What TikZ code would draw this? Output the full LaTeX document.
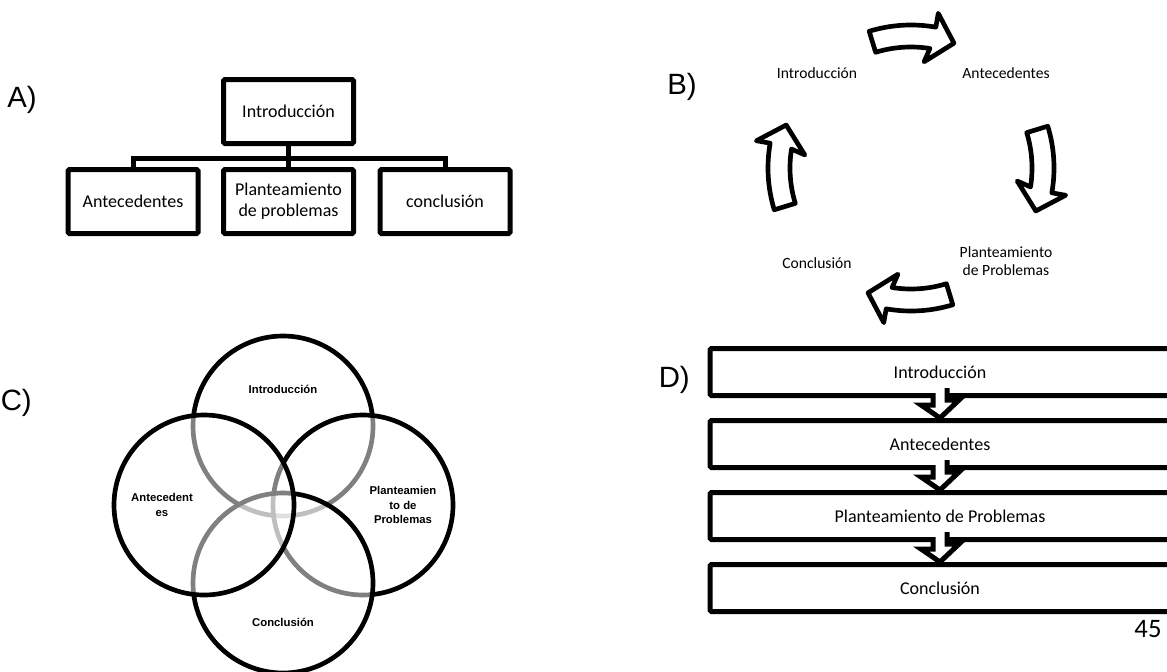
\documentclass[tikz,border=0pt]{standalone}
\usepackage{fontspec}
\setmainfont{Carlito}
\newfontfamily\arialfont{Liberation Sans}
\usetikzlibrary{calc}

\begin{document}
\begin{tikzpicture}[
    x=0.75pt, y=-0.75pt, node distance=54pt,
    seclabel/.style={font=\arialfont\fontsize{22}{26}\selectfont, anchor=east, inner sep=0pt},
    abox/.style={draw, line width=3.75pt, rounded corners=1pt, minimum width=97.5pt, minimum height=48pt, inner sep=2pt, align=center, font=\fontsize{13.5}{15.5}\selectfont},
    cyctxt/.style={align=center, font=\fontsize{11.7}{13.75}\selectfont},
    venn/.style={circle, draw, line width=3.5pt, fill=white, fill opacity=0.5, minimum size=135pt, inner sep=0pt},
    venntxt/.style={align=center, inner sep=0pt, font=\arialfont\bfseries\fontsize{8.5}{11}\selectfont},
    dbox/.style={draw, line width=3.75pt, rounded corners=1pt, minimum width=345pt, minimum height=35.25pt, font=\fontsize{13.5}{16}\selectfont},
    chev/.style={draw, fill=white, line width=3.75pt},
    cyclearrow/.pic={
        \path[draw, fill=white, line width=3.5pt, line join=round] (-107:143) arc[start angle=-107, end angle=-80, radius=143] -- (-80:157) -- (-71:132) -- (-83:107) -- (-81:121) arc[start angle=-81, end angle=-107, radius=121] -- cycle;
    }
]
\useasboundingbox (0,0) rectangle (1167,671);

\node (labA) [seclabel] at (37,100) {A)};
\node (labB) [seclabel] at (697,87) {B)};
\node (labC) [seclabel] at (32,403) {C)};
\node (labD) [seclabel] at (690,380) {D)};

\node (introA) [abox] at (288.5,111.5) {Introducción};
\node (antA) [abox] at (133,201.5) {Antecedentes};
\node (planA) [abox] at (288.5,201.5) {Planteamiento\\de problemas};
\node (conA) [abox] at (445,201.5) {conclusión};
\coordinate (busA) at (288.5,158);
\draw[line width=3.75pt] (antA.north) |- (busA) -| (conA.north);
\draw[line width=3.75pt] (introA.south) -- (planA.north);

\coordinate (cycB) at (911,168);
\foreach \r in {0,90,180,270}
    \pic[rotate=\r] at (cycB) {cyclearrow};
\node (introB) [cyctxt] at (817,73) {Introducción};
\node (antB) [cyctxt] at (1006,73) {Antecedentes};
\node (planB) [cyctxt] at (1006,261) {Planteamiento\\de Problemas};
\node (conB) [cyctxt] at (817,263) {Conclusión};

\node (introC) [venn] at (283,426) {};
\node (planC) [venn] at (363,505) {};
\node (conC) [venn] at (283,583) {};
\node (antC) [venn] at (204,505) {};
\node (introCtxt) [venntxt] at (283,389) {Introducción};
\node (antCtxt) [venntxt] at (162,505) {Antecedent\\es};
\node (planCtxt) [venntxt] at (403,505) {Planteamien\\to de\\Problemas};
\node (conCtxt) [venntxt] at (283,622) {Conclusión};

\node (introD) [dbox] at (940,372) {Introducción};
\node (antD) [dbox, below of=introD] {Antecedentes};
\node (planD) [dbox, below of=antD] {Planteamiento de Problemas};
\node (conD) [dbox, below of=planD] {Conclusión};
\foreach \a/\b in {introD/antD, antD/planD, planD/conD}
    \path[chev] (\a.south) ++(-7,-5) -- ++(0,12) -- ++(-12,0) -- (\b.north) -- ++(19,-18) -- ++(-12,0) -- ++(0,-12);

\node (pageno) [font=\fontsize{20}{24}\selectfont] at (1148,629) {45};
\end{tikzpicture}
\end{document}
